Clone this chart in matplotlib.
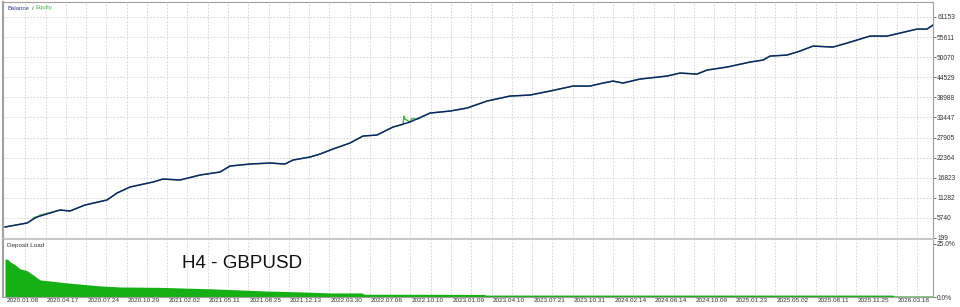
import numpy as np
import matplotlib
matplotlib.use("Agg")
import matplotlib.pyplot as plt
import matplotlib.transforms as mtransforms

plt.rcParams['font.family'] = ['Liberation Sans', 'DejaVu Sans']

# balance curve (x in chart units, value in account currency)
bal_x = [5, 27, 37, 60, 70, 85, 107, 117, 130, 153, 163, 180, 200, 220, 230, 250,
         270, 285, 293, 310, 320, 333, 350, 363, 377, 393, 410, 430, 450, 467, 487,
         510, 530, 550, 573, 590, 603, 613, 623, 640, 667, 680, 697, 707, 727, 750,
         763, 770, 787, 800, 813, 833, 847, 870, 887, 900, 917, 927, 933]
bal_y = [3232, 4335, 5989, 7919, 7643, 9297, 10677, 12605, 14260, 15638, 16465,
         16190, 17568, 18396, 20049, 20601, 20877, 20601, 21704, 22531, 23358,
         24737, 26391, 28321, 28597, 30802, 32180, 34662, 35213, 36040, 37970,
         39349, 39625, 40728, 42106, 42106, 42933, 43485, 42933, 44036, 44863,
         45690, 45414, 46517, 47344, 48723, 49274, 50376, 50652, 51755, 53133,
         52858, 53961, 55891, 55891, 56718, 57821, 57821, 58924]

# equity points where it leaves the balance line
eq_dev_x = [31, 34, 40, 403, 404, 405, 412, 418]
eq_dev_y = [5000, 5900, 6500, 31500, 33834, 33000, 33100, 33000]

# deposit load, %
load_x = [5, 8, 10, 15, 20, 27, 33, 40, 50, 67, 100, 120, 160, 213, 267, 300,
          330, 362, 364, 484, 486, 892, 894, 933]
load_y = [17.9, 17.5, 16.5, 15.1, 13.2, 12.3, 10.4, 8.0, 7.5, 6.6, 5.2, 4.7, 4.5,
          3.8, 2.8, 2.4, 1.9, 1.9, 1.3, 1.2, 0.9, 0.9, 0.5, 0.5]

y_ticks = [199, 5740, 11282, 16823, 22364, 27905, 33447, 38988, 44529, 50070, 55611, 61153]
date_labels = ['2020.01.08', '2020.04.17', '2020.07.24', '2020.10.29', '2021.02.02',
               '2021.05.11', '2021.08.25', '2021.12.13', '2022.03.30', '2022.07.06',
               '2022.10.10', '2023.01.09', '2023.04.10', '2023.07.21', '2023.10.31',
               '2024.02.14', '2024.06.14', '2024.10.09', '2025.01.23', '2025.05.02',
               '2025.08.11', '2025.11.25', '2026.03.18']

# equity = balance path with the departures merged in
eq = dict(zip(bal_x, bal_y))
eq.update(zip(eq_dev_x, eq_dev_y))
eq_x = sorted(eq)
eq_y = [eq[k] for k in eq_x]

W, H = 960, 307
fig = plt.figure(figsize=(W / 100, H / 100), dpi=100)
fig.patch.set_facecolor('white')

grid_x = 25.3 + 20.27 * np.arange(45)
frame = '#a0a0a0'
gridc = '#cfcfcf'
small = 4.8

ax1 = fig.add_axes([3 / W, 1 - 238.5 / H, 930 / W, 236.5 / H])
ax2 = fig.add_axes([3 / W, 1 - 297 / H, 930 / W, 57.5 / H])

# top: balance / equity
ax1.plot(eq_x, eq_y, color='#3fb23f', lw=1.0, zorder=2)
ax1.plot(bal_x, bal_y, color='#0d2270', lw=1.05, zorder=3)
ax1.set_xlim(3, 933)
ax1.set_ylim(61, 65290)
ax1.set_xticks(grid_x)
ax1.set_yticks(y_ticks)
ax1.set_yticklabels([str(v) for v in y_ticks])
ax1.yaxis.tick_right()
ax1.tick_params(axis='x', length=0, labelbottom=False)
ax1.tick_params(axis='y', length=2, width=0.6, color='#555555', pad=1,
                labelsize=small, labelcolor='#333333')
ax1.grid(True, color=gridc, linestyle=(0, (2, 2)), lw=0.6)
ax1.set_axisbelow(True)

# bottom: deposit load
ax2.fill_between(load_x, 0, load_y, color='#14b014', lw=0)
ax2.set_xlim(3, 933)
ax2.set_ylim(0, 26.9)
ax2.set_xticks(grid_x[::2])
ax2.set_xticklabels(date_labels)
ax2.set_xticks(grid_x[1::2], minor=True)
ax2.set_yticks([0, 25])
ax2.set_yticklabels(['0.0%', '25.0%'])
ax2.yaxis.tick_right()
ax2.tick_params(axis='x', which='both', length=0, pad=0.8, labelsize=4.6,
                labelcolor='#333333')
ax2.tick_params(axis='y', length=2, width=0.6, color='#555555', pad=1,
                labelsize=small, labelcolor='#333333')
ax2.grid(True, axis='x', which='both', color=gridc, linestyle=(0, (2, 2)), lw=0.6)
ax2.set_axisbelow(True)
offset = mtransforms.ScaledTranslation(-3 / 100, 0, fig.dpi_scale_trans)
for lab in ax2.get_xticklabels():
    lab.set_transform(lab.get_transform() + offset)

for ax in (ax1, ax2):
    for s in ax.spines.values():
        s.set_color(frame)
        s.set_linewidth(0.8)
    ax.spines['left'].set_linewidth(1.5)
ax1.spines['bottom'].set_linewidth(1.5)
ax1.spines['bottom'].set_color('#c8c8c8')
ax2.spines['top'].set_visible(False)

fig.text(7 / W, 1 - 8 / H, 'Balance', color='#2a3a9a', fontsize=4.3, va='center')
fig.text(31.5 / W, 1 - 8 / H, '/', color='#444444', fontsize=4.3, va='center')
fig.text(35 / W, 1 - 8 / H, 'Equity', color='#3fb23f', fontsize=4.3, va='center')
fig.text(7 / W, 1 - 245 / H, 'Deposit Load', color='#333333', fontsize=4.6, va='center')
fig.text(182 / W, 1 - 264 / H, 'H4 - GBPUSD', color='#111111', fontsize=13.5, va='center')

fig.savefig('out.png', dpi=100, facecolor='white')
